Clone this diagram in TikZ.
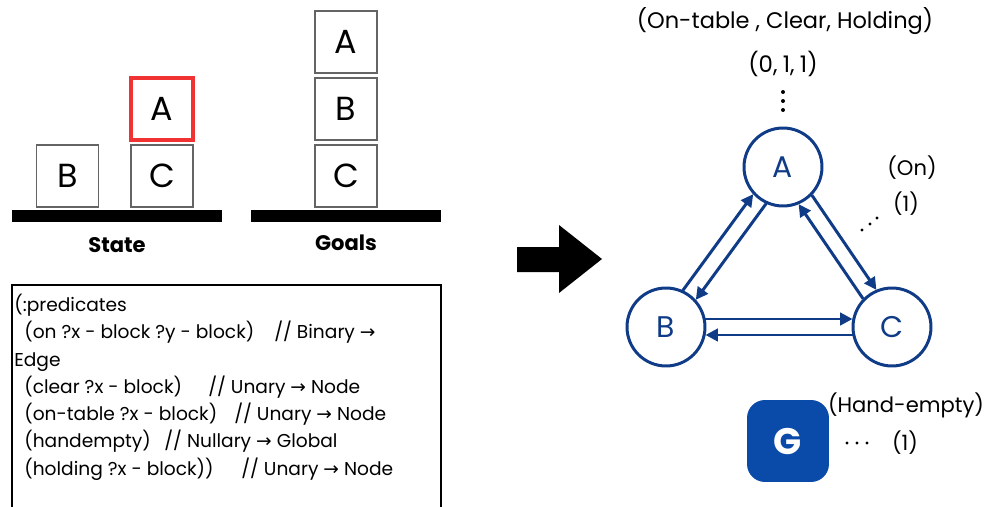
\documentclass[tikz,border=0pt]{standalone}
\usepackage{fontspec}
\setmainfont{Poppins}
\newfontfamily\symfont{DejaVu Sans}
\usetikzlibrary{positioning, arrows.meta, calc}
\definecolor{navy}{RGB}{16,60,135}
\definecolor{gblue}{RGB}{10,75,170}
\definecolor{blockgray}{RGB}{100,100,100}
\definecolor{blockred}{RGB}{240,50,50}
\newcommand{\ra}{{\symfont →}}
\newcommand{\pred}[2]{\hspace{0.2cm}\makebox[#1][l]{#2}}
\tikzstyle{block} = [rectangle, minimum size=1.24cm, inner sep=0pt, draw=blockgray, line width=1.1pt, font=\fontsize{19}{22}\selectfont]
\tikzstyle{held} = [block, draw=blockred, line width=1.9pt]
\tikzstyle{tabletop} = [fill=black]
\tikzstyle{obj} = [circle, minimum size=1.56cm, inner sep=0pt, draw=navy, line width=1.7pt, text=navy, font=\fontsize{17}{20}\selectfont]
\tikzstyle{edge} = [line width=1.7pt, navy, -{Triangle[length=7pt,width=7pt]}, shorten <=0.79cm, shorten >=0.79cm]
\tikzstyle{feat} = [font=\fontsize{12}{14}\selectfont, inner sep=0pt]

\begin{document}
\begin{tikzpicture}[x=0.02cm, y=-0.02cm]
\useasboundingbox (0,0) rectangle (985,507);

% blocks world
\fill [tabletop] (12,210) rectangle (222,222);
\fill [tabletop] (251,210) rectangle (441,222);
\node (sb) [block] at (67.5,176) {B};
\node (sc) [block] at (162,176) {C};
\node (sa) [held, above=0.05cm of sc] {A};
\node (gc) [block] at (346,176) {C};
\node (gb) [block, above=0.06cm of gc] {B};
\node (ga) [block, above=0.06cm of gb] {A};
\node (state) at (117,245) {\fontsize{12}{14}\selectfont\bfseries State};
\node (goals) at (346,243) {\fontsize{12}{14}\selectfont\bfseries Goals};

% predicates
\draw [line width=1.4pt] (12,510) -- (12,285) -- (441,285) -- (441,510);
\node (preds) [anchor=north west, align=left, inner sep=0pt, font=\fontsize{10.6}{15.5}\selectfont] at (14,294) {%
(:predicates\\
\pred{5.0cm}{(on ?x - block ?y - block)}// Binary \ra\\
Edge\\
\pred{3.68cm}{(clear ?x - block)}// Unary \ra{} Node\\
\pred{4.2cm}{(on-table ?x - block)}// Unary \ra{} Node\\
\pred{2.8cm}{(handempty)}// Nullary \ra{} Global\\
\pred{4.34cm}{(holding ?x - block))}// Unary \ra{} Node};

% big arrow
\fill (517,247) -- (559,247) -- (559,225) -- (602,259) -- (559,293) -- (559,272) -- (517,272) -- cycle;

% graph
\node (a) [obj] at (783,167) {A};
\node (b) [obj] at (666,327) {B};
\node (c) [obj] at (892,327) {C};

\draw [edge] ($(a)!0.16cm!90:(b)$) -- ($(b)!0.16cm!-90:(a)$);
\draw [edge] ($(b)!0.16cm!90:(a)$) -- ($(a)!0.16cm!-90:(b)$);
\draw [edge] ($(a)!0.16cm!90:(c)$) -- ($(c)!0.16cm!-90:(a)$);
\draw [edge] ($(c)!0.16cm!90:(a)$) -- ($(a)!0.16cm!-90:(c)$);
\draw [edge] ($(b)!0.16cm!90:(c)$) -- ($(c)!0.16cm!-90:(b)$);
\draw [edge] ($(c)!0.16cm!90:(b)$) -- ($(b)!0.16cm!-90:(c)$);

\node (attrs) [feat, font=\fontsize{12.8}{15}\selectfont] at (785,21) {(On-table , Clear, Holding)};
\node (vals) [feat, font=\fontsize{13}{15}\selectfont] at (783,64) {(0,\kern3pt1,\kern3pt1)};
\foreach \y in {92,101,110} \fill (783,\y) circle (0.04cm);
\node (on) [feat] at (912,168) {(On)};
\node (onval) [feat] at (906,204) {(1)};
\foreach \x/\y in {862/230, 870/224, 877/218} \fill (\x,\y) circle (0.034cm);

\node (g) [rectangle, rounded corners=0.36cm, minimum size=1.64cm, fill=gblue, text=white, font=\fontsize{21}{24}\selectfont\bfseries] at (788,441) {G};
\node (hand) [feat] at (906,405) {(Hand-empty)};
\foreach \x in {847,857,867} \fill (\x,443) circle (0.034cm);
\node (gval) [feat] at (905,443) {(1)};

\end{tikzpicture}
\end{document}
